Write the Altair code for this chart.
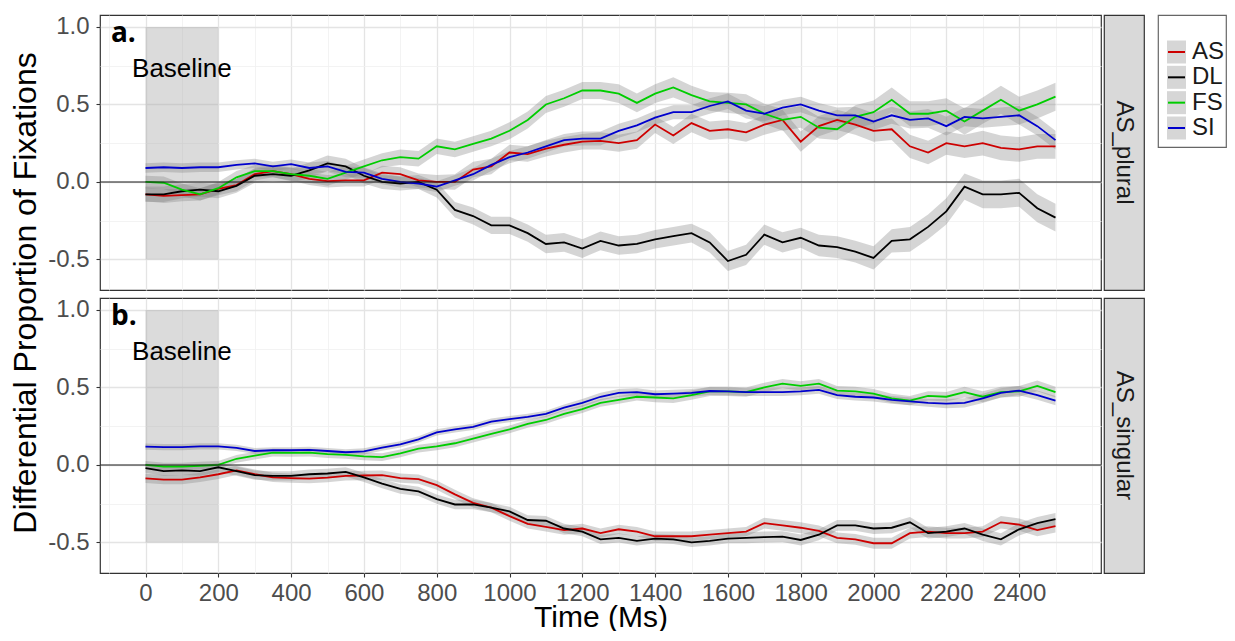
import altair as alt
import pandas as pd

# ---------------- data ----------------
time_ms = list(range(0, 2501, 50))
series_names = ["AS", "DL", "FS", "SI"]
series_colors = ["#cd0000", "#000000", "#00cd00", "#0000cd"]
panel_names = ["AS_plural", "AS_singular"]
panel_tags = ["a.", "b."]
y_title = "Differential Proportion of Fixations"
x_title = "Time (Ms)"

plural_AS = [-0.08, -0.09, -0.085, -0.08, -0.045, -0.02, 0.05, 0.07, 0.05, 0.02,
             0.005, 0.01, 0.01, 0.06, 0.05, 0.01, 0.0, 0.0, 0.08, 0.10,
             0.19, 0.18, 0.215, 0.24, 0.26, 0.265, 0.25, 0.27, 0.37, 0.30,
             0.38, 0.33, 0.34, 0.32, 0.37, 0.40, 0.26, 0.36, 0.40, 0.37,
             0.33, 0.34, 0.23, 0.19, 0.25, 0.23, 0.25, 0.22, 0.21, 0.23, 0.23]
plural_DL = [-0.08, -0.08, -0.06, -0.05, -0.06, -0.025, 0.04, 0.05, 0.04, 0.075,
             0.12, 0.10, 0.04, 0.0, -0.01, 0.0, -0.05, -0.18, -0.22, -0.28,
             -0.28, -0.33, -0.40, -0.39, -0.43, -0.38, -0.41, -0.40, -0.37, -0.35,
             -0.33, -0.39, -0.51, -0.47, -0.34, -0.39, -0.36, -0.41, -0.42, -0.45,
             -0.49, -0.38, -0.37, -0.29, -0.19, -0.03, -0.08, -0.08, -0.07, -0.17, -0.23]
plural_FS = [0.0, -0.005, -0.05, -0.08, -0.04, 0.03, 0.07, 0.07, 0.05, 0.04,
             0.02, 0.06, 0.10, 0.14, 0.16, 0.15, 0.23, 0.21, 0.245, 0.28,
             0.33, 0.40, 0.50, 0.54, 0.59, 0.59, 0.57, 0.51, 0.57, 0.61,
             0.56, 0.52, 0.51, 0.50, 0.44, 0.40, 0.42, 0.35, 0.34, 0.42,
             0.45, 0.53, 0.44, 0.44, 0.46, 0.39, 0.46, 0.53, 0.46, 0.50, 0.55]
plural_SI = [0.09, 0.095, 0.09, 0.095, 0.095, 0.11, 0.12, 0.10, 0.115, 0.09,
             0.10, 0.065, 0.06, 0.02, 0.0, -0.01, -0.03, 0.01, 0.05, 0.11,
             0.16, 0.19, 0.23, 0.27, 0.28, 0.28, 0.33, 0.365, 0.415, 0.45,
             0.45, 0.49, 0.52, 0.46, 0.44, 0.48, 0.50, 0.46, 0.43, 0.43,
             0.39, 0.43, 0.40, 0.41, 0.36, 0.42, 0.41, 0.42, 0.43, 0.36, 0.27]

singular_AS = [-0.086, -0.095, -0.095, -0.08, -0.06, -0.035, -0.06, -0.08, -0.085, -0.088,
               -0.082, -0.07, -0.068, -0.065, -0.085, -0.092, -0.13, -0.19, -0.245, -0.275,
               -0.33, -0.38, -0.40, -0.42, -0.41, -0.44, -0.415, -0.43, -0.46, -0.46,
               -0.46, -0.45, -0.44, -0.43, -0.375, -0.39, -0.405, -0.425, -0.47, -0.48,
               -0.505, -0.505, -0.44, -0.43, -0.44, -0.44, -0.43, -0.37, -0.385, -0.42, -0.395]
singular_DL = [-0.02, -0.04, -0.035, -0.04, -0.015, -0.04, -0.065, -0.07, -0.07, -0.06,
               -0.055, -0.045, -0.08, -0.12, -0.155, -0.17, -0.22, -0.255, -0.255, -0.275,
               -0.3, -0.355, -0.36, -0.41, -0.43, -0.48, -0.47, -0.49, -0.475, -0.48,
               -0.5, -0.49, -0.475, -0.47, -0.465, -0.462, -0.484, -0.45, -0.39, -0.39,
               -0.41, -0.405, -0.37, -0.44, -0.43, -0.41, -0.45, -0.48, -0.415, -0.376, -0.35]
singular_FS = [0.0, -0.01, -0.01, -0.005, 0.0, 0.04, 0.06, 0.08, 0.078, 0.08,
               0.07, 0.065, 0.055, 0.05, 0.075, 0.105, 0.12, 0.14, 0.17, 0.2,
               0.23, 0.265, 0.29, 0.33, 0.36, 0.40, 0.42, 0.44, 0.435, 0.43,
               0.45, 0.475, 0.475, 0.47, 0.5, 0.525, 0.51, 0.525, 0.48, 0.475,
               0.46, 0.43, 0.415, 0.445, 0.44, 0.47, 0.44, 0.47, 0.475, 0.51, 0.47]
singular_SI = [0.118, 0.115, 0.115, 0.12, 0.12, 0.11, 0.09, 0.095, 0.095, 0.097,
               0.09, 0.082, 0.088, 0.112, 0.133, 0.165, 0.21, 0.23, 0.245, 0.28,
               0.295, 0.31, 0.33, 0.37, 0.40, 0.44, 0.465, 0.47, 0.456, 0.46,
               0.465, 0.477, 0.475, 0.47, 0.47, 0.47, 0.475, 0.484, 0.45, 0.44,
               0.435, 0.42, 0.41, 0.40, 0.395, 0.40, 0.43, 0.465, 0.48, 0.45, 0.415]

# ribbon half-widths
plural_AS_se = [0.045, 0.045, 0.04, 0.04, 0.04, 0.04, 0.04, 0.04, 0.04, 0.04,
                0.04, 0.04, 0.04, 0.045, 0.045, 0.045, 0.045, 0.05, 0.05, 0.05,
                0.05, 0.05, 0.05, 0.05, 0.05, 0.055, 0.055, 0.055, 0.055, 0.055,
                0.06, 0.06, 0.06, 0.06, 0.065, 0.065, 0.065, 0.065, 0.065, 0.065,
                0.07, 0.07, 0.075, 0.075, 0.075, 0.075, 0.08, 0.08, 0.08, 0.08, 0.08]
plural_DL_se = [0.05, 0.05, 0.045, 0.045, 0.045, 0.045, 0.045, 0.045, 0.045, 0.05,
                0.05, 0.05, 0.05, 0.045, 0.045, 0.045, 0.05, 0.05, 0.055, 0.055,
                0.055, 0.055, 0.06, 0.06, 0.06, 0.06, 0.06, 0.06, 0.06, 0.06,
                0.06, 0.065, 0.065, 0.065, 0.065, 0.065, 0.065, 0.07, 0.07, 0.07,
                0.075, 0.075, 0.08, 0.08, 0.085, 0.085, 0.09, 0.09, 0.09, 0.09, 0.09]
plural_FS_se = [0.04, 0.04, 0.04, 0.04, 0.04, 0.04, 0.04, 0.04, 0.045, 0.045,
                0.045, 0.045, 0.045, 0.045, 0.05, 0.05, 0.05, 0.05, 0.05, 0.05,
                0.055, 0.055, 0.055, 0.055, 0.055, 0.055, 0.06, 0.06, 0.06, 0.065,
                0.06, 0.06, 0.065, 0.065, 0.065, 0.07, 0.07, 0.07, 0.07, 0.075,
                0.075, 0.08, 0.08, 0.08, 0.08, 0.085, 0.085, 0.09, 0.09, 0.09, 0.09]
plural_SI_se = [0.03, 0.03, 0.03, 0.03, 0.03, 0.03, 0.03, 0.03, 0.03, 0.035,
                0.035, 0.035, 0.035, 0.035, 0.035, 0.035, 0.035, 0.035, 0.04, 0.04,
                0.04, 0.04, 0.04, 0.04, 0.045, 0.045, 0.045, 0.045, 0.045, 0.045,
                0.045, 0.05, 0.05, 0.05, 0.05, 0.05, 0.05, 0.05, 0.05, 0.055,
                0.055, 0.055, 0.055, 0.06, 0.06, 0.06, 0.06, 0.06, 0.06, 0.06, 0.06]
singular_AS_se = [0.03, 0.03, 0.03, 0.03, 0.03, 0.03, 0.03, 0.03, 0.03, 0.03,
                  0.03, 0.03, 0.03, 0.03, 0.03, 0.03, 0.03, 0.03, 0.03, 0.03,
                  0.03, 0.03, 0.03, 0.03, 0.03, 0.03, 0.03, 0.03, 0.03, 0.03,
                  0.03, 0.03, 0.03, 0.03, 0.035, 0.035, 0.035, 0.035, 0.035, 0.035,
                  0.035, 0.035, 0.035, 0.035, 0.035, 0.035, 0.035, 0.04, 0.04, 0.04, 0.04]
singular_DL_se = [0.03, 0.03, 0.03, 0.03, 0.03, 0.03, 0.03, 0.03, 0.03, 0.03,
                  0.03, 0.03, 0.03, 0.03, 0.03, 0.03, 0.03, 0.03, 0.03, 0.03,
                  0.03, 0.03, 0.03, 0.03, 0.03, 0.03, 0.03, 0.03, 0.03, 0.03,
                  0.03, 0.03, 0.03, 0.035, 0.035, 0.035, 0.035, 0.035, 0.035, 0.035,
                  0.035, 0.035, 0.035, 0.035, 0.035, 0.035, 0.04, 0.04, 0.04, 0.04, 0.04]
singular_FS_se = [0.025, 0.025, 0.025, 0.025, 0.025, 0.025, 0.025, 0.025, 0.025, 0.025,
                  0.025, 0.025, 0.025, 0.025, 0.025, 0.025, 0.025, 0.025, 0.025, 0.025,
                  0.025, 0.025, 0.025, 0.025, 0.025, 0.025, 0.025, 0.025, 0.03, 0.03,
                  0.03, 0.03, 0.03, 0.03, 0.03, 0.03, 0.03, 0.03, 0.03, 0.03,
                  0.03, 0.03, 0.03, 0.03, 0.03, 0.035, 0.035, 0.035, 0.035, 0.035, 0.035]
singular_SI_se = [0.02, 0.02, 0.02, 0.02, 0.02, 0.02, 0.02, 0.02, 0.02, 0.02,
                  0.02, 0.02, 0.02, 0.02, 0.02, 0.02, 0.02, 0.02, 0.02, 0.02,
                  0.02, 0.02, 0.02, 0.02, 0.025, 0.025, 0.025, 0.025, 0.025, 0.025,
                  0.025, 0.025, 0.025, 0.025, 0.025, 0.025, 0.025, 0.025, 0.025, 0.025,
                  0.025, 0.025, 0.025, 0.025, 0.03, 0.03, 0.03, 0.03, 0.03, 0.03, 0.03]

means = {
    "AS_plural": [plural_AS, plural_DL, plural_FS, plural_SI],
    "AS_singular": [singular_AS, singular_DL, singular_FS, singular_SI],
}
halfw = {
    "AS_plural": [plural_AS_se, plural_DL_se, plural_FS_se, plural_SI_se],
    "AS_singular": [singular_AS_se, singular_DL_se, singular_FS_se, singular_SI_se],
}

# axis breaks
x_major = [0, 200, 400, 600, 800, 1000, 1200, 1400, 1600, 1800, 2000, 2200, 2400]
x_minor = [-100, 100, 300, 500, 700, 900, 1100, 1300, 1500, 1700, 1900, 2100,
           2300, 2500, 2600]
y_major = [-0.5, 0.0, 0.5, 1.0]
y_minor = [-0.25, 0.25, 0.75]

rows = []
for p in panel_names:
    for s, m, e in zip(series_names, means[p], halfw[p]):
        for t, v, h in zip(time_ms, m, e):
            rows.append({"panel": p, "series": s, "t": t, "y": v,
                         "lo": v - h, "hi": v + h})
df = pd.DataFrame(rows)

baseline_df = pd.DataFrame({"x0": [0], "x1": [200], "y0": [-0.5], "y1": [1.0]})
zero_df = pd.DataFrame({"y": [0.0]})
baseline_label_df = pd.DataFrame({"x": [100], "y": [0.73], "label": ["Baseline"]})

# ---------------- styling ----------------
FONT = "Liberation Sans"
W, H = 1001, 275
GAP = 6
X_DOMAIN = [-125, 2625]
Y_DOMAIN = [-0.697, 1.077]

xscale = alt.Scale(domain=X_DOMAIN, nice=False, zero=False)
yscale = alt.Scale(domain=Y_DOMAIN, nice=False, zero=False)
color_scale = alt.Scale(domain=series_names, range=series_colors)


def minor_x_axis():
    return alt.Axis(values=x_minor, orient="top", labels=False, ticks=False,
                    domain=False, title=None, grid=True,
                    gridColor="#f0f0f0", gridWidth=0.8)


def minor_y_axis():
    return alt.Axis(values=y_minor, orient="right", labels=False, ticks=False,
                    domain=False, title=None, grid=True,
                    gridColor="#f0f0f0", gridWidth=0.8)


def major_x_axis(show):
    if not show:
        return alt.Axis(values=x_major, orient="bottom", labels=False, ticks=False,
                        domain=False, title=None, grid=True,
                        gridColor="#e4e4e4", gridWidth=1.3)
    return alt.Axis(values=x_major, orient="bottom", format="d",
                    tickSize=4, tickColor="#333333", tickWidth=1.1,
                    labelFontSize=24, labelColor="#4d4d4d", labelPadding=4,
                    labelOverlap=False, labelFont=FONT,
                    title=x_title, titleFontSize=30, titleFont=FONT,
                    titleColor="black", titleFontWeight="normal", titlePadding=-3,
                    domain=False, grid=True, gridColor="#e4e4e4", gridWidth=1.3)


def major_y_axis():
    return alt.Axis(values=y_major, orient="left", format=".1f",
                    labelExpr="replace(datum.label, '\u2212', '-')",
                    tickSize=4, tickColor="#333333", tickWidth=1.1,
                    labelFontSize=24, labelColor="#4d4d4d", labelPadding=7,
                    labelOverlap=False, labelFont=FONT, domain=False, title=None,
                    grid=True, gridColor="#e4e4e4", gridWidth=1.3)


def make_panel(pname, tag, bottom):
    d = df[df["panel"] == pname]
    rect = alt.Chart(baseline_df).mark_rect(color="#a6a6a6", opacity=0.4).encode(
        x=alt.X("x0:Q", scale=xscale, axis=minor_x_axis()),
        x2="x1:Q",
        y=alt.Y("y0:Q", scale=yscale, axis=minor_y_axis()),
        y2="y1:Q",
    )
    ribbons = alt.Chart(d).mark_area(color="#7f7f7f", opacity=0.33).encode(
        x=alt.X("t:Q", scale=xscale, axis=None),
        y=alt.Y("lo:Q", scale=yscale, axis=None),
        y2="hi:Q",
        detail="series:N",
    )
    lines = alt.Chart(d).mark_line(strokeWidth=1.8).encode(
        x=alt.X("t:Q", scale=xscale, axis=major_x_axis(bottom)),
        y=alt.Y("y:Q", scale=yscale, axis=major_y_axis()),
        color=alt.Color("series:N", scale=color_scale, legend=None),
    )
    zero = alt.Chart(zero_df).mark_rule(color="#1a1a1a", strokeWidth=1.1).encode(
        y=alt.Y("y:Q", scale=yscale, axis=None)
    )
    base_txt = alt.Chart(baseline_label_df).mark_text(
        fontSize=26, font=FONT, color="black", baseline="middle"
    ).encode(
        x=alt.X("x:Q", scale=xscale, axis=None),
        y=alt.Y("y:Q", scale=yscale, axis=None),
        text="label:N",
    )
    tag_df = pd.DataFrame({"x": [-95], "y": [0.90], "label": [tag]})
    tag_txt = alt.Chart(tag_df).mark_text(
        fontSize=28, font="Open Sans", fontWeight="bold", color="black",
        align="left", baseline="alphabetic"
    ).encode(
        x=alt.X("x:Q", scale=xscale, axis=None),
        y=alt.Y("y:Q", scale=yscale, axis=None),
        text="label:N",
    )
    return alt.layer(rect, ribbons, lines, zero, base_txt, tag_txt).resolve_axis(
        x="independent", y="independent"
    ).properties(width=W, height=H)


def make_strip(pname):
    return alt.Chart(pd.DataFrame({"label": [pname]})).mark_text(
        angle=90, fontSize=24, font=FONT, color="#1a1a1a",
        align="center", baseline="middle"
    ).encode(
        text="label:N", x=alt.value(20), y=alt.value(H / 2)
    ).properties(
        width=40, height=H,
        view=alt.ViewBackground(fill="#d9d9d9", stroke="#333333", strokeWidth=1.2),
    )


rows_charts = []
for i, (p, tag) in enumerate(zip(panel_names, panel_tags)):
    rows_charts.append(alt.hconcat(make_panel(p, tag, i == 1), make_strip(p), spacing=0))

main = alt.vconcat(*rows_charts, spacing=GAP)

# shared y title as its own narrow view
ytitle = alt.Chart(pd.DataFrame({"label": [y_title]})).mark_text(
    angle=270, fontSize=32, font=FONT, color="black", align="center", baseline="middle"
).encode(
    text="label:N", x=alt.value(17), y=alt.value(H + 3)
).properties(
    width=36, height=2 * H + 8,
    view=alt.ViewBackground(stroke="transparent", fill="transparent"),
)

# legend built from the series list
leg_df = pd.DataFrame({"series": series_names})
leg_y = alt.Y("series:N", scale=alt.Scale(type="point", domain=series_names,
                                           range=[37, 113], padding=0), axis=None)
leg_keys = alt.Chart(leg_df).mark_tick(
    orient="vertical", size=23, thickness=19, color="#d6d6d6", opacity=1
).encode(x=alt.value(18.5), y=leg_y)
leg_lines = alt.Chart(leg_df).mark_rule(strokeWidth=2).encode(
    x=alt.value(10), x2=alt.value(27), y=leg_y,
    color=alt.Color("series:N", scale=color_scale, legend=None),
)
leg_text = alt.Chart(leg_df).mark_text(
    align="left", baseline="middle", fontSize=24, font=FONT, color="#1a1a1a"
).encode(x=alt.value(34), y=leg_y, text="series:N")
legend = alt.layer(leg_keys, leg_lines, leg_text).properties(
    width=68, height=132,
    view=alt.ViewBackground(fill="white", stroke="#666666", strokeWidth=1.2),
)

inner = alt.hconcat(ytitle, main, spacing=1)
chart = alt.hconcat(inner, legend, spacing=12).properties(
    padding={"left": 0, "top": 6, "right": 0, "bottom": -2}
).configure_view(
    stroke="#333333", strokeWidth=1.2
).configure_axis(
    labelFont=FONT, titleFont=FONT
)

chart.save("out.html", embed_options={"renderer": "svg", "actions": False})
